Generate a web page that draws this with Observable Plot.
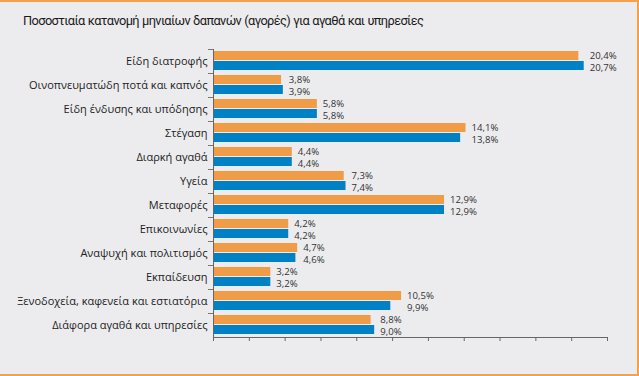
<!DOCTYPE html>
<html>
<head>
<meta charset="utf-8">
<script src="https://cdn.jsdelivr.net/npm/d3@7"></script>
<script src="https://cdn.jsdelivr.net/npm/@observablehq/plot@0.6"></script>
<style>
  html, body { margin: 0; padding: 0; background: #ECECEE; }
  #wrap { position: relative; width: 639px; height: 376px; background: #ECECEE; overflow: hidden; }
  #title { position: absolute; left: 23px; top: 13px; font-family: Roboto, sans-serif; font-size: 12.8px; letter-spacing: -0.6px; word-spacing: 0.5px; color: #1a1a1a; white-space: nowrap; }
  #chart { position: absolute; left: 0; top: 0; }
  #border { position: absolute; left: 0; top: 0; width: 639px; height: 376px; box-sizing: border-box; border-top: 2px solid #F4A04C; border-right: 2px solid #F4A04C; border-bottom: 2px solid #F4A04C; pointer-events: none; }
</style>
</head>
<body>
<div id="wrap">
  <div id="chart"></div>
  <div id="title">Ποσοστιαία κατανομή μηνιαίων δαπανών (αγορές) για αγαθά και υπηρεσίες</div>
  <div id="border"></div>
</div>
<script>
const categories = [
  "Είδη διατροφής",
  "Οινοπνευματώδη ποτά και καπνός",
  "Είδη ένδυσης και υπόδησης",
  "Στέγαση",
  "Διαρκή αγαθά",
  "Υγεία",
  "Μεταφορές",
  "Επικοινωνίες",
  "Αναψυχή και πολιτισμός",
  "Εκπαίδευση",
  "Ξενοδοχεία, καφενεία και εστιατόρια",
  "Διάφορα αγαθά και υπηρεσίες"
];
const seriesNames = ["Σειρά 1", "Σειρά 2"];
const seriesOrange = [20.4, 3.8, 5.8, 14.1, 4.4, 7.3, 12.9, 4.2, 4.7, 3.2, 10.5, 8.8];
const seriesBlue   = [20.7, 3.9, 5.8, 13.8, 4.4, 7.4, 12.9, 4.2, 4.6, 3.2, 9.9, 9.0];

const orange = "#F09C47";
const blue = "#0081C4";

const dataA = categories.map((c, i) => ({category: c, series: seriesNames[0], value: seriesOrange[i], top: Math.max(seriesOrange[i], seriesBlue[i])}));
const dataB = categories.map((c, i) => ({category: c, series: seriesNames[1], value: seriesBlue[i], top: Math.max(seriesOrange[i], seriesBlue[i])}));
const fmt = v => v.toFixed(1).replace(".", ",") + "%";

const chart = Plot.plot({
  width: 639,
  height: 376,
  marginTop: 49,
  marginBottom: 39,
  marginLeft: 213,
  marginRight: 32,
  style: {background: "transparent", fontFamily: "Open Sans, sans-serif", fontSize: "11px", color: "#222"},
  x: {domain: [0, 22], label: null},
  y: {domain: categories, padding: 0, label: null},
  marks: [
    Plot.barX(dataA, {x: "value", y: "category", fill: orange, insetTop: 2, insetBottom: 13}),
    Plot.barX(dataB, {x: "value", y: "category", fill: blue, insetTop: 12, insetBottom: 3}),
    Plot.text(dataA, {x: "top", y: "category", text: d => fmt(d.value), dx: 5.5, dy: -6, textAnchor: "start", fontSize: 9.6, fill: "#333"}),
    Plot.text(dataB, {x: "top", y: "category", text: d => fmt(d.value), dx: 5.5, dy: 6, textAnchor: "start", fontSize: 9.6, fill: "#333"}),
    Plot.ruleX([0], {stroke: "#666"}),
    Plot.frame({anchor: "bottom", stroke: "#666"}),
    Plot.axisX({ticks: 11, tickSize: 4, tickFormat: () => "", stroke: "#666", label: null}),
    Plot.axisY({tickSize: 0, tickPadding: 6, fontSize: 11, fill: "#222", label: null}),
    Plot.axisY({tickSize: 5, tickFormat: () => "", dy: -12, stroke: "#777", label: null})
  ]
});
document.getElementById("chart").appendChild(chart);
</script>
</body>
</html>
